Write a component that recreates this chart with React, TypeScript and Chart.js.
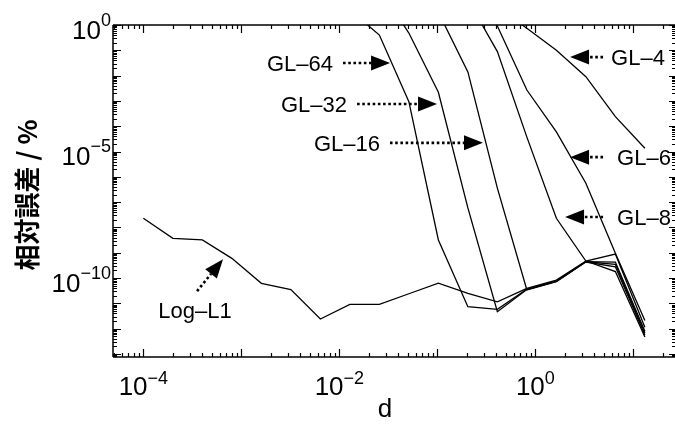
import React, { useEffect, useRef } from 'react';
import { Chart, registerables } from 'chart.js';

Chart.register(...registerables);

// ---- data ----
const dValues = [1e-4, 2e-4, 4e-4, 8e-4, 1.6e-3, 3.2e-3, 6.4e-3, 1.28e-2, 2.56e-2, 5.12e-2, 0.1024, 0.2048, 0.4096, 0.8192, 1.6384, 3.2768, 6.5536, 13.1072];

const logL1 = [2.3e-8, 3.7e-9, 3.2e-9, 6.0e-10, 6.2e-11, 3.5e-11, 2.4e-12, 9.1e-12, 9.1e-12, 2.4e-11, 6.3e-11, 2.5e-11, 1.15e-11, 3.9e-11, 8.3e-11, 4.7e-10, 8.9e-10, 1.15e-12];
const gl64 = [null, null, null, null, null, null, null, 4.0, 0.40, 9.3e-4, 3.2e-9, 7.4e-12, 5.8e-12, 3.7e-11, 7.6e-11, 4.5e-10, 4.3e-10, 7.9e-13];
const gl32 = [null, null, null, null, null, null, null, null, 30, 0.48, 2.2e-3, 5.9e-8, 4.7e-12, 3.5e-11, 7.4e-11, 4.4e-10, 3.5e-10, 6.8e-13];
const gl16 = [null, null, null, null, null, null, null, null, null, null, 3.2, 1.4e-2, 3.6e-7, 3.4e-11, 7.2e-11, 4.3e-10, 2.8e-10, 5.6e-13];
const gl8 = [null, null, null, null, null, null, null, null, null, null, null, 10, 8.9e-2, 3.7e-5, 2.3e-8, 4.7e-10, 1.8e-10, 4.7e-13];
const gl6 = [null, null, null, null, null, null, null, null, null, null, null, 32, 0.91, 2.7e-3, 6.0e-5, 5.6e-7, 9.5e-10, 2.1e-12];
const gl4 = [null, null, null, null, null, null, null, null, null, null, null, null, 5.0, 0.74, 0.10, 9.1e-3, 2.4e-4, 1.35e-5];

const seriesNames = ['Log–L1', 'GL–64', 'GL–32', 'GL–16', 'GL–8', 'GL–6', 'GL–4'];
const seriesValues = [logL1, gl64, gl32, gl16, gl8, gl6, gl4];

const xLabelExponents = [-4, -2, 0];
const yLabelExponents = [0, -5, -10];
const xTitle = 'd';
const yTitle = '相対誤差 / %';

// arrow annotations (tip in data units)
const annotations = [
  { text: 'GL–64', x: 0.0329, y: 0.0315, tail: [-47, 0], textAt: [-57, 8], align: 'right' },
  { text: 'GL–32', x: 0.0993, y: 7.6e-4, tail: [-80, 0], textAt: [-90, 8], align: 'right' },
  { text: 'GL–16', x: 0.292, y: 2.2e-5, tail: [-93, 0], textAt: [-103, 8], align: 'right' },
  { text: 'GL–4', x: 2.26, y: 0.054, tail: [33, 0], textAt: [41, 8], align: 'left' },
  { text: 'GL–6', x: 2.26, y: 6.0e-6, tail: [33, 0], textAt: [47, 8], align: 'left' },
  { text: 'GL–8', x: 2.01, y: 2.6e-8, tail: [38, 0], textAt: [52, 8], align: 'left' },
  { text: 'Log–L1', x: 6.5e-4, y: 5.6e-10, tail: [-26, 32], textAt: [-28, 59], align: 'center' },
];

const X_MIN = 4.9e-5;
const X_MAX = 26.6;
const Y_MIN = 7.6e-14;
const Y_MAX = 1;

const FONT = '"Liberation Sans", Arial, sans-serif';

function drawPow(ctx: CanvasRenderingContext2D, exp: number, x: number, baseY: number, supY: number, align: string) {
  const base = '10';
  const sup = exp < 0 ? '\u2212' + Math.abs(exp) : String(exp);
  ctx.font = `26px ${FONT}`;
  const wb = ctx.measureText(base).width;
  ctx.font = `18px ${FONT}`;
  const ws = ctx.measureText(sup).width;
  const total = wb + ws;
  let start = x;
  if (align === 'center') start = x - total / 2;
  else if (align === 'right') start = x - total;
  ctx.textAlign = 'left';
  ctx.textBaseline = 'alphabetic';
  ctx.font = `26px ${FONT}`;
  ctx.fillText(base, start, baseY);
  ctx.font = `18px ${FONT}`;
  ctx.fillText(sup, start + wb, supY);
}

const decorPlugin = {
  id: 'decor',
  afterDraw(chart: any) {
    const ctx: CanvasRenderingContext2D = chart.ctx;
    const xs = chart.scales.x;
    const ys = chart.scales.y;
    const { left, right, top, bottom } = chart.chartArea;
    ctx.save();
    ctx.strokeStyle = '#000';
    ctx.fillStyle = '#000';

    // axes lines
    ctx.lineWidth = 1.5;
    ctx.beginPath();
    ctx.moveTo(left, top);
    ctx.lineTo(right, top);
    ctx.moveTo(left, bottom);
    ctx.lineTo(right, bottom);
    ctx.moveTo(left, top);
    ctx.lineTo(left, bottom);
    ctx.stroke();

    // x ticks
    ctx.lineWidth = 1.2;
    ctx.beginPath();
    for (let n = -5; n <= 2; n++) {
      for (let m = 1; m <= 9; m++) {
        const v = m * Math.pow(10, n);
        if (v < X_MIN || v > X_MAX) continue;
        const px = Math.round(xs.getPixelForValue(v)) + 0.5;
        const len = m === 1 ? 8 : 4;
        ctx.moveTo(px, bottom);
        ctx.lineTo(px, bottom - len);
        ctx.moveTo(px, top);
        ctx.lineTo(px, top + len);
      }
    }
    // y ticks
    for (let n = -14; n <= 0; n++) {
      for (let m = 1; m <= 9; m++) {
        const v = m * Math.pow(10, n);
        if (v < Y_MIN || v > Y_MAX * 1.0001) continue;
        const py = Math.round(ys.getPixelForValue(v)) + 0.5;
        const len = m === 1 ? 8 : 4;
        ctx.moveTo(left, py);
        ctx.lineTo(left + len, py);
        const rl = m === 1 ? 6 : 3;
        ctx.moveTo(right, py);
        ctx.lineTo(right - rl, py);
      }
    }
    ctx.stroke();

    // tick labels
    xLabelExponents.forEach((e) => {
      const px = xs.getPixelForValue(Math.pow(10, e));
      drawPow(ctx, e, px, bottom + 38, bottom + 27, 'center');
    });
    yLabelExponents.forEach((e) => {
      const py = ys.getPixelForValue(Math.pow(10, e));
      drawPow(ctx, e, left - 2, py + 13.5, py + 0.5, 'right');
    });

    // titles
    ctx.font = `26px ${FONT}`;
    ctx.textAlign = 'center';
    ctx.textBaseline = 'alphabetic';
    ctx.fillText(xTitle, (xs.getPixelForValue(X_MIN) + xs.getPixelForValue(X_MAX)) / 2 - 9, bottom + 60);

    ctx.save();
    ctx.translate(27, (top + bottom) / 2 + 4);
    ctx.rotate(-Math.PI / 2);
    ctx.font = 'bold 26px "Noto Sans CJK JP", sans-serif';
    ctx.textAlign = 'center';
    ctx.textBaseline = 'middle';
    ctx.fillText(yTitle, 0, 0);
    ctx.restore();

    // annotations
    annotations.forEach((a) => {
      const tx = xs.getPixelForValue(a.x);
      const ty = ys.getPixelForValue(a.y);
      const sx = tx + a.tail[0];
      const sy = ty + a.tail[1];
      const dx = tx - sx;
      const dy = ty - sy;
      const L = Math.hypot(dx, dy);
      const ux = dx / L;
      const uy = dy / L;
      const headLen = 19;
      const hw = 7.5;
      const bx = tx - ux * headLen;
      const by = ty - uy * headLen;
      ctx.save();
      ctx.lineWidth = 2.6;
      ctx.setLineDash([2.6, 2.6]);
      ctx.beginPath();
      ctx.moveTo(sx, sy);
      ctx.lineTo(bx, by);
      ctx.stroke();
      ctx.restore();
      ctx.beginPath();
      ctx.moveTo(tx, ty);
      ctx.lineTo(bx - uy * hw, by + ux * hw);
      ctx.lineTo(bx + uy * hw, by - ux * hw);
      ctx.closePath();
      ctx.fill();
      ctx.font = `22px ${FONT}`;
      ctx.textAlign = a.align as CanvasTextAlign;
      ctx.textBaseline = 'alphabetic';
      ctx.fillText(a.text, tx + a.textAt[0], ty + a.textAt[1]);
    });

    ctx.restore();
  },
};

export default function App() {
  const canvasRef = useRef<HTMLCanvasElement | null>(null);

  useEffect(() => {
    const canvas = canvasRef.current;
    if (!canvas) return;
    const datasets = seriesValues.map((vals, i) => ({
      label: seriesNames[i],
      data: dValues.map((d, j) => ({ x: d, y: vals[j] })),
      borderColor: '#000',
      backgroundColor: '#000',
      borderWidth: 1.3,
      pointRadius: 0,
      tension: 0,
      spanGaps: false,
    }));
    const chart = new Chart(canvas, {
      type: 'line',
      data: { datasets },
      options: {
        animation: false,
        responsive: false,
        devicePixelRatio: 1,
        parsing: true,
        layout: { padding: { left: 113, top: 25, right: 0, bottom: 68 } },
        plugins: { legend: { display: false }, tooltip: { enabled: false } },
        scales: {
          x: { type: 'logarithmic', min: X_MIN, max: X_MAX, display: false },
          y: { type: 'logarithmic', min: Y_MIN, max: Y_MAX, display: false },
        },
      },
      plugins: [decorPlugin],
    } as any);
    return () => chart.destroy();
  }, []);

  return (
    <div style={{ position: 'absolute', left: 0, top: 0, width: 675, height: 425, background: '#fff' }}>
      <canvas ref={canvasRef} width={675} height={425} style={{ width: 675, height: 425, display: 'block' }} />
    </div>
  );
}
